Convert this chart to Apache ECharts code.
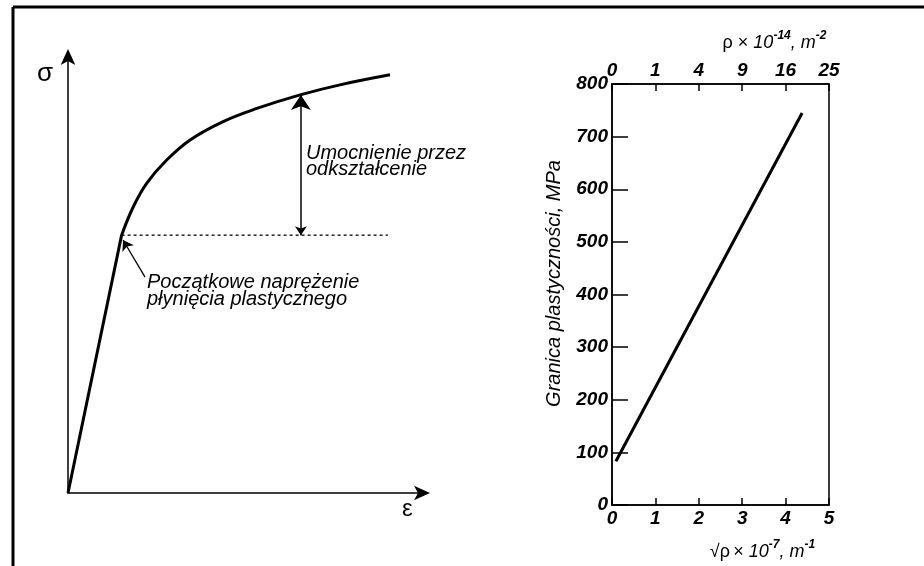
<!DOCTYPE html>
<html><head><meta charset="utf-8">
<script src="https://cdn.jsdelivr.net/npm/echarts@6/dist/echarts.min.js"></script>
<style>html,body{margin:0;padding:0;background:#fff}#c{width:924px;height:566px}</style>
</head><body><div id="c"></div>
<script>
// ---- Left schematic: stress–strain curve (arbitrary units) ----
const elasticX = [0, 15.1];
const elasticY = [0, 59.0];
const plasticX = [15.1, 18.4, 22.2, 27.8, 34.4, 43.7, 53.2, 65.4, 76.6, 90.7];
const plasticY = [59.0, 65.5, 70.9, 76.2, 80.8, 85.0, 88.0, 91.1, 93.4, 95.7];
const yieldLineX = [15.1, 90.1];
const yieldLineY = [59.0, 59.0];
const hardeningArrowX = [65.6, 65.6];
const hardeningArrowY = [59.0, 91.1];
const pointerArrowX = [21.7, 15.5];
const pointerArrowY = [49.4, 57.9];

// ---- Right chart: yield strength vs sqrt(dislocation density) ----
const sqrtRhoX = [0.09, 4.38];
const yieldStrengthY = [83, 745];
const bottomTickValues = [0, 1, 2, 3, 4, 5];
const topTickLabels = ['0', '1', '4', '9', '16', '25'];
const yTickValues = [0, 100, 200, 300, 400, 500, 600, 700, 800];

const zip = (a, b) => a.map((v, i) => [v, b[i]]);
const FF = 'Liberation Sans, Arial, sans-serif';
const tickFont = { fontFamily: FF, fontSize: 19, fontStyle: 'italic', fontWeight: 'bold', color: '#000' };
const richName = {
  b: { fontFamily: FF, fontSize: 18, color: '#000', verticalAlign: 'bottom', lineHeight: 22 },
  n: { fontFamily: FF, fontSize: 18, color: '#000', verticalAlign: 'bottom', lineHeight: 22 },
  i: { fontFamily: FF, fontSize: 18, fontStyle: 'italic', color: '#000', verticalAlign: 'bottom', lineHeight: 22 },
  s: { fontFamily: FF, fontSize: 12, fontStyle: 'italic', fontWeight: 'bold', color: '#000', verticalAlign: 'top', lineHeight: 12 }
};

const chart = echarts.init(document.getElementById('c'), null, { renderer: 'canvas' });
chart.setOption({
  backgroundColor: '#fff',
  animation: false,
  grid: [
    { left: 68, top: 56, width: 355, height: 437 },
    { left: 612, top: 84, width: 217, height: 422, show: true, borderColor: '#000', borderWidth: 1.5, backgroundColor: 'transparent' }
  ],
  xAxis: [
    { gridIndex: 0, type: 'value', min: 0, max: 100,
      axisLine: { show: true, lineStyle: { color: '#000', width: 1.5 }, symbol: ['none', 'arrow'], symbolSize: [11, 16], symbolOffset: [0, 7] },
      axisTick: { show: false }, axisLabel: { show: false }, splitLine: { show: false } },
    { gridIndex: 1, type: 'value', min: 0, max: 5, interval: 1, position: 'bottom',
      axisLine: { show: true, onZero: false, lineStyle: { color: '#000', width: 1.5 } },
      axisTick: { show: true, inside: true, length: 7, lineStyle: { color: '#000', width: 1.5 } },
      axisLabel: Object.assign({ margin: 4, formatter: v => String(v) }, tickFont),
      splitLine: { show: false },
      name: '{b|√ρ} {n|× }{i|10}{s|-7}{i|, m}{s|-1}', nameLocation: 'middle', nameGap: 34,
      nameTextStyle: { padding: [0, 0, 0, 84], rich: richName } },
    { gridIndex: 1, type: 'value', min: 0, max: 5, interval: 1, position: 'top',
      axisLine: { show: true, onZero: false, lineStyle: { color: '#000', width: 1.5 } },
      axisTick: { show: true, inside: true, length: 7, lineStyle: { color: '#000', width: 1.5 } },
      axisLabel: Object.assign({ margin: 4, formatter: v => topTickLabels[Math.round(v)] }, tickFont),
      splitLine: { show: false },
      name: '{n|ρ × }{i|10}{s|-14}{i|, m}{s|-2}', nameLocation: 'middle', nameGap: 32,
      nameTextStyle: { padding: [0, 0, 0, 108], rich: richName } }
  ],
  yAxis: [
    { gridIndex: 0, type: 'value', min: 0, max: 100,
      axisLine: { show: true, lineStyle: { color: '#000', width: 1.5 }, symbol: ['none', 'arrow'], symbolSize: [11, 16], symbolOffset: [0, 7] },
      axisTick: { show: false }, axisLabel: { show: false }, splitLine: { show: false } },
    { gridIndex: 1, type: 'value', min: 0, max: 800, interval: 100,
      axisLine: { show: true, onZero: false, lineStyle: { color: '#000', width: 1.5 } },
      axisTick: { show: true, inside: true, length: 16, lineStyle: { color: '#000', width: 1.5 } },
      axisLabel: Object.assign({ margin: 4 }, tickFont),
      splitLine: { show: false },
      name: 'Granica plastyczności, MPa', nameLocation: 'middle', nameGap: 48, nameRotate: 90,
      nameTextStyle: { fontFamily: FF, fontSize: 20, fontStyle: 'italic', color: '#000', padding: [0, 0, 0, 22] } }
  ],
  series: [
    { type: 'line', xAxisIndex: 0, yAxisIndex: 0, data: zip(elasticX, elasticY), showSymbol: false, symbol: 'none',
      lineStyle: { color: '#000', width: 3 } },
    { type: 'line', xAxisIndex: 0, yAxisIndex: 0, data: zip(plasticX, plasticY), smooth: 0.4, showSymbol: false, symbol: 'none',
      lineStyle: { color: '#000', width: 3 } },
    { type: 'line', xAxisIndex: 0, yAxisIndex: 0, data: zip(yieldLineX, yieldLineY), showSymbol: false, symbol: 'none',
      lineStyle: { color: '#000', width: 1.3, type: [3, 3] } },
    { type: 'lines', coordinateSystem: 'cartesian2d', xAxisIndex: 0, yAxisIndex: 0,
      symbol: ['arrow', 'arrow'], symbolSize: [9, 15],
      lineStyle: { color: '#000', width: 1.5, opacity: 1 },
      data: [{ coords: zip(hardeningArrowX, hardeningArrowY) }] },
    { type: 'lines', coordinateSystem: 'cartesian2d', xAxisIndex: 0, yAxisIndex: 0,
      symbol: ['none', 'arrow'], symbolSize: [7, 10],
      lineStyle: { color: '#000', width: 1.3, opacity: 1 },
      data: [{ coords: zip(pointerArrowX, pointerArrowY) }] },
    { type: 'line', xAxisIndex: 1, yAxisIndex: 1, data: zip(sqrtRhoX, yieldStrengthY), showSymbol: false, symbol: 'none',
      lineStyle: { color: '#000', width: 3 } }
  ],
  graphic: [
    { type: 'line', shape: { x1: 13, y1: 7, x2: 924, y2: 7 }, style: { stroke: '#000', lineWidth: 3 } },
    { type: 'line', shape: { x1: 13, y1: 7, x2: 13, y2: 566 }, style: { stroke: '#000', lineWidth: 3 } },
    { type: 'text', left: 37, top: 61, style: { text: 'σ', font: '26px ' + FF, fill: '#000' } },
    { type: 'text', left: 402, top: 497, style: { text: 'ε', font: '24px ' + FF, fill: '#000' } },
    { type: 'text', left: 306, top: 143, style: { text: 'Umocnienie przez\nodkształcenie', font: 'italic 20px ' + FF, fill: '#000', lineHeight: 16 } },
    { type: 'text', left: 147, top: 272, style: { text: 'Początkowe naprężenie\npłynięcia plastycznego', font: 'italic 20px ' + FF, fill: '#000', lineHeight: 17 } }
  ]
});
</script></body></html>
